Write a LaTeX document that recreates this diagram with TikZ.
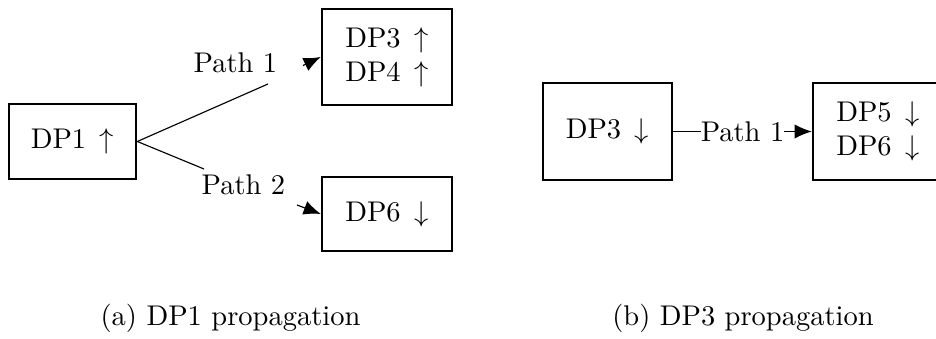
\documentclass[tikz,border=0pt]{standalone}
\usetikzlibrary{arrows.meta}
\newcommand\upar{\hspace{1.5pt}$\uparrow$}
\newcommand\downar{\hspace{1.5pt}$\downarrow$}
\tikzset{
  box/.style={draw, line width=0.9pt, inner sep=0pt, align=center},
  conn/.style={draw, line width=0.4pt},
  arrowtipped/.style={-{Latex[length=6pt,width=5pt]}},
  pathlabel/.style={inner sep=0pt},
  captext/.style={inner sep=0pt}
}
\begin{document}
\begin{tikzpicture}[x=0.351pt, y=-0.351pt]
\clip (0,0) rectangle (936,339);
% (a)
\node[box, minimum width=44.6pt, minimum height=26.3pt] (dp1) at (72.5,141.5) {DP1 \upar};
\node[box, minimum width=45.6pt, minimum height=33.7pt] (dp34) at (387,57) {DP3 \upar\\DP4 \upar};
\node[box, minimum width=45.6pt, minimum height=26pt] (dp6) at (387,214) {DP6 \downar};
\coordinate (p1end) at (268,84);
\coordinate (p1start) at (303,65.5);
\coordinate (p2end) at (204,169);
\coordinate (p2start) at (297,205);
\draw[conn] (dp1.east) -- (p1end);
\draw[conn, arrowtipped] (p1start) -- (dp34.west);
\draw[conn] (dp1.east) -- (p2end);
\draw[conn, arrowtipped] (p2start) -- (dp6.west);
\node[pathlabel] (l1) at (235.5,63) {Path 1};
\node[pathlabel] (l2) at (243.5,185) {Path 2};
% (b)
\node[box, minimum width=45.3pt, minimum height=34pt] (dp3b) at (607.5,131.5) {DP3 \downar};
\node[box, minimum width=45.6pt, minimum height=34pt] (dp56) at (878,131.5) {DP5 \downar\\DP6 \downar};
\draw[conn, arrowtipped] (dp3b.east) -- node[fill=white, inner sep=0pt] (l3) {Path 1} (dp56.west);
% captions
\node[captext] (capa) at (230.5,318) {(a) DP1 propagation};
\node[captext] (capb) at (743,318) {(b) DP3 propagation};
\end{tikzpicture}
\end{document}
